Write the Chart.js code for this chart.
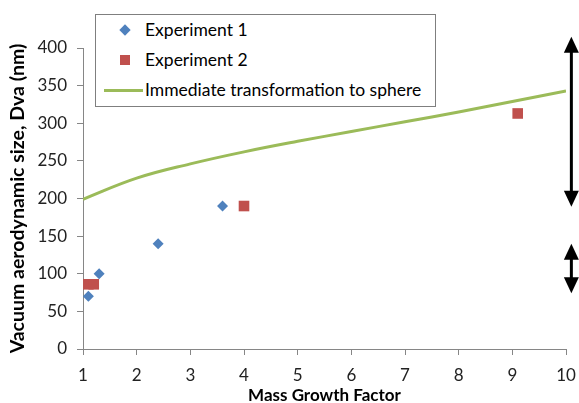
<!DOCTYPE html>
<html>
<head>
<meta charset="utf-8">
<script src="https://cdn.jsdelivr.net/npm/chart.js@4.4.1/dist/chart.umd.min.js"></script>
<style>
  html, body { margin: 0; padding: 0; background: #fff; }
  #wrap { position: relative; width: 579px; height: 403px; }
  #legend {
    position: absolute; left: 95px; top: 14px; width: 341px; height: 93px;
    box-sizing: border-box; border: 1px solid #7f7f7f; background: #fff;
    font-family: Lato, sans-serif; font-size: 17.5px; color: #000;
  }
  .item { position: absolute; left: 0; height: 30px; line-height: 30px; white-space: nowrap; }
  .item .txt { position: absolute; left: 49px; top: 0; }
  .mk { position: absolute; }
</style>
</head>
<body>
<div id="wrap">
  <canvas id="chart" width="579" height="403"></canvas>
  <div id="legend"></div>
</div>
<script>
"use strict";

// Experiment 1 (blue diamonds)
const exp1X = [1.1, 1.3, 2.4, 3.6];
const exp1Y = [70, 100, 140, 190];
// Experiment 2 (red squares)
const exp2X = [1.1, 1.2, 4.0, 9.1];
const exp2Y = [86, 86, 190, 313];
// Immediate transformation to sphere (green curve)
const sphereX = [1, 2, 3, 4, 5, 6, 7, 8, 9, 10];
const sphereY = [199, 227, 246, 262, 276, 289, 302, 315, 329, 343];
// double arrows at the right edge
const arrowX = 10.1;
const arrowRanges = [[189, 415], [74, 140]];

const seriesNames = ['Experiment 1', 'Experiment 2', 'Immediate transformation to sphere'];
const xTitle = 'Mass Growth Factor';
const yTitle = 'Vacuum aerodynamic size, Dva (nm)';

const BLUE = '#4F81BD', RED = '#C0504D', GREEN = '#9BBB59', AXIS = '#868686';

const pts = (xs, ys) => xs.map((x, i) => ({ x: x, y: ys[i] }));

Chart.defaults.font.family = 'Lato, sans-serif';

// arrows drawn on the right, outside the plot area
const arrowPlugin = {
    id: 'arrows',
    afterDatasetsDraw(chart) {
        const c = chart.ctx, sx = chart.scales.x, sy = chart.scales.y;
        const px = sx.getPixelForValue(arrowX);
        c.save();
        c.strokeStyle = '#000';
        c.fillStyle = '#000';
        c.lineWidth = 3;
        arrowRanges.forEach(r => {
            const yLo = sy.getPixelForValue(r[0]);
            const yHi = sy.getPixelForValue(r[1]);
            const hw = 7.5, hh = 16;
            c.beginPath();
            c.moveTo(px, yHi + hh - 2);
            c.lineTo(px, yLo - hh + 2);
            c.stroke();
            // heads
            c.beginPath();
            c.moveTo(px, yHi); c.lineTo(px - hw, yHi + hh); c.lineTo(px + hw, yHi + hh);
            c.closePath(); c.fill();
            c.beginPath();
            c.moveTo(px, yLo); c.lineTo(px - hw, yLo - hh); c.lineTo(px + hw, yLo - hh);
            c.closePath(); c.fill();
        });
        c.restore();
    }
};

const chart = new Chart(document.getElementById('chart').getContext('2d'), {
    type: 'scatter',
    data: {
        datasets: [
            {
                label: seriesNames[0], data: pts(exp1X, exp1Y),
                pointStyle: 'rectRot', pointRadius: 5.5, pointHoverRadius: 5.5,
                backgroundColor: BLUE, borderColor: BLUE, borderWidth: 0, showLine: false
            },
            {
                label: seriesNames[1], data: pts(exp2X, exp2Y),
                pointStyle: 'rect', pointRadius: 7.5, pointHoverRadius: 7.5,
                backgroundColor: RED, borderColor: RED, borderWidth: 0, showLine: false
            },
            {
                label: seriesNames[2], data: pts(sphereX, sphereY),
                showLine: true, pointRadius: 0, borderColor: GREEN, borderWidth: 3,
                tension: 0.4, fill: false
            }
        ]
    },
    options: {
        responsive: false,
        animation: false,
        layout: { padding: { left: 0, right: 13, top: 48, bottom: 0 } },
        plugins: { legend: { display: false }, tooltip: { enabled: false } },
        scales: {
            x: {
                type: 'linear', min: 1, max: 10,
                ticks: { stepSize: 1, color: '#222', font: { size: 17 }, padding: 10 },
                grid: { drawOnChartArea: false, drawTicks: true, tickLength: 6, color: AXIS },
                border: { color: AXIS },
                title: { display: true, text: xTitle, color: '#000', font: { size: 17, weight: 'bold' }, padding: { top: 0, bottom: -3 } },
                afterFit(scale) {
                    scale.height = 54;
                    scale.paddingLeft = 0;
                    scale.paddingRight = 0;
                }
            },
            y: {
                min: 0, max: 400,
                ticks: { stepSize: 50, color: '#222', font: { size: 17 }, padding: 10 },
                grid: { drawOnChartArea: false, drawTicks: true, tickLength: 6, color: AXIS },
                border: { color: AXIS },
                title: { display: true, text: yTitle, color: '#000', font: { size: 19.5, weight: 'bold' }, padding: { top: 6, bottom: 0 } },
                afterFit(scale) { scale.width = 83; }
            }
        }
    },
    plugins: [arrowPlugin]
});

// legend built from the datasets
const legend = document.getElementById('legend');
chart.data.datasets.forEach((ds, i) => {
    const item = document.createElement('div');
    item.className = 'item';
    item.style.top = (i * 30) + 'px';
    const mk = document.createElement('span');
    mk.className = 'mk';
    if (ds.pointStyle === 'rectRot') {
        Object.assign(mk.style, { left: '25px', top: '11px', width: '8px', height: '8px', background: ds.backgroundColor, transform: 'rotate(45deg)' });
    } else if (ds.pointStyle === 'rect') {
        Object.assign(mk.style, { left: '24px', top: '10px', width: '10px', height: '10px', background: ds.backgroundColor });
    } else {
        Object.assign(mk.style, { left: '8px', top: '14px', width: '39px', height: '3px', background: ds.borderColor });
    }
    const txt = document.createElement('span');
    txt.className = 'txt';
    txt.textContent = ds.label;
    item.appendChild(mk);
    item.appendChild(txt);
    legend.appendChild(item);
});
</script>
</body>
</html>
